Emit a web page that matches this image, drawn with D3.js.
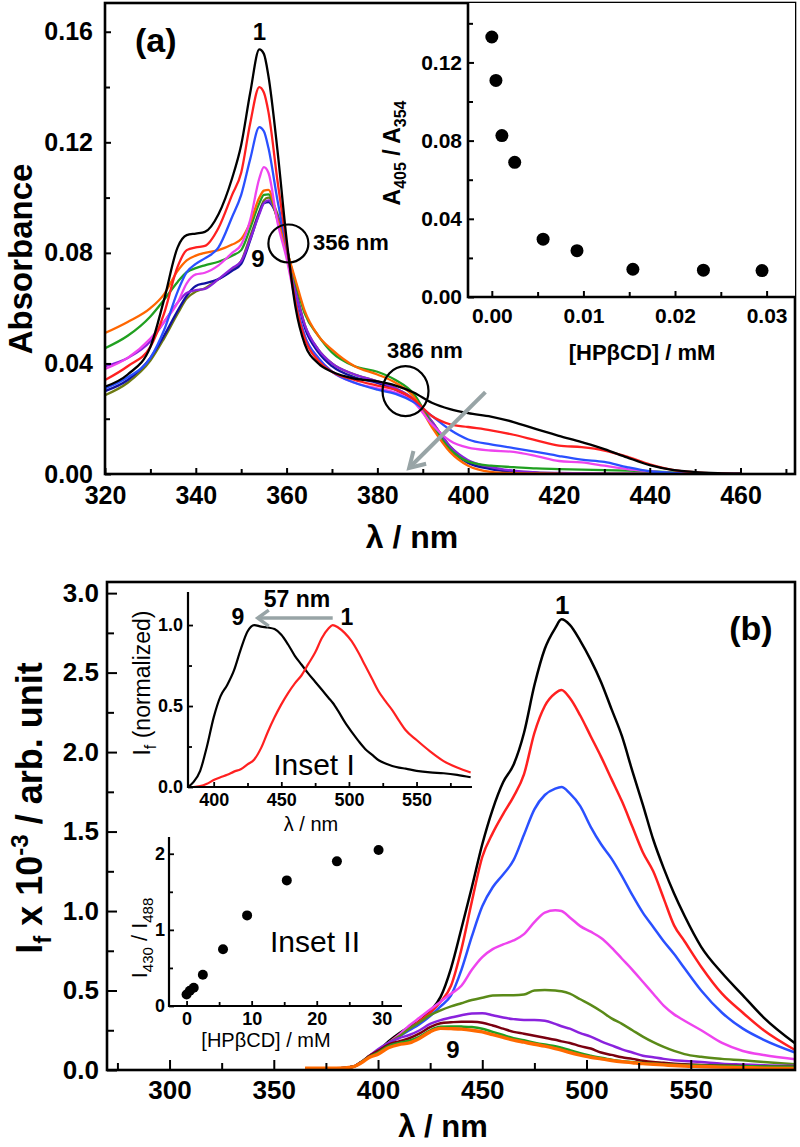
<!DOCTYPE html>
<html>
<head>
<meta charset="utf-8">
<script src="https://cdn.jsdelivr.net/npm/d3@7"></script>
<style>
  body { margin: 0; background: #fff; }
  text { font-family: "Liberation Sans", Arial, sans-serif; }
</style>
</head>
<body>
<svg id="viz"></svg>
<script>
// ---- panel (a): absorption spectra, 9 titration steps ----
const wlA = [320, 325, 330, 333, 336, 338, 340, 342, 345, 348, 350, 352, 354, 355, 356, 358, 360, 362, 364, 367,
             370, 375, 380, 384, 388, 392, 396, 400, 405, 410, 415, 420, 425, 430, 435, 440, 445, 450, 455, 460];
const abs1 = [.0316, .036, .046, .063, .082, .0864, .087, .0876, .094, .107, .119, .138, .1536, .152, .144, .117, .085, .060, .047, .040,
              .037, .0345, .0335, .032, .0295, .0258, .0235, .022, .0208, .0188, .0162, .0138, .0115, .009, .006, .0032, .0015, .0007, .0003, .0001];
const abs2 = [.034, .039, .046, .058, .075, .081, .082, .0825, .089, .101, .109, .127, .140, .138, .131, .106, .083, .062, .049, .041,
              .037, .034, .032, .0305, .027, .021, .018, .017, .0158, .0142, .0122, .0103, .0097, .0085, .0063, .0035, .0015, .0006, .0002, 0];
const abs3 = [.031, .035, .042, .052, .066, .073, .076, .078, .082, .093, .101, .114, .1255, .124, .118, .099, .082, .063, .050, .042,
              .037, .033, .0305, .029, .026, .021, .016, .0125, .0107, .0094, .008, .0065, .0052, .0044, .0025, .001, .0004, .0001, 0, 0];
const abs4 = [.038, .042, .049, .055, .062, .069, .0722, .0728, .0755, .080, .083, .092, .107, .111, .109, .091, .078, .062, .050, .042,
              .037, .033, .031, .0295, .026, .018, .012, .0095, .0085, .008, .0065, .0047, .0042, .003, .0018, .001, .0003, 0, 0, 0];
const abs5 = [.051, .055, .060, .065, .0735, .0773, .079, .080, .081, .083, .085, .091, .100, .1025, .1028, .092, .081, .070, .059, .050,
              .045, .039, .036, .033, .028, .017, .008, .003, .0008, .0003, .0002, .0001, 0, 0, 0, 0, 0, 0, 0, 0];
const abs6 = [.0455, .050, .057, .063, .0695, .073, .0745, .0755, .0768, .079, .081, .089, .098, .101, .1012, .092, .081, .069, .058, .050,
              .044, .039, .037, .034, .029, .018, .009, .0045, .003, .0025, .002, .0018, .0016, .0014, .0012, .001, .0006, .0003, .0001, 0];
const abs7 = [.039, .042, .048, .055, .062, .0655, .0665, .067, .0705, .0745, .077, .085, .094, .098, .099, .093, .081, .066, .054, .045,
              .040, .036, .0335, .031, .027, .019, .010, .005, .0025, .0012, .0006, .0004, .0003, .0002, .0001, .0001, 0, 0, 0, 0];
const abs8 = [.0285, .033, .041, .049, .058, .0635, .066, .0672, .0705, .074, .077, .086, .095, .099, .100, .094, .082, .067, .054, .045,
              .040, .036, .0335, .031, .027, .019, .010, .0045, .002, .001, .0005, .0003, .0002, .0001, 0, 0, 0, 0, 0, 0];
const abs9 = [.030, .034, .042, .050, .059, .0645, .068, .069, .0705, .0735, .076, .0846, .0945, .098, .0984, .093, .082, .066, .053, .044,
              .039, .035, .033, .0305, .0265, .018, .009, .004, .0018, .0008, .0004, .0002, .0001, 0, 0, 0, 0, 0, 0, 0];
const absColors = ["#000000", "#ff2020", "#2a50ff", "#ee44ee", "#ff6600", "#20a020", "#8a22dd", "#6e7a12", "#1212a0"];

// inset of (a): A405/A354 vs [HPbCD]
const concA = [0, 0.00045, 0.0011, 0.0025, 0.0056, 0.0093, 0.0154, 0.0231, 0.0295];
const ratioA = [0.133, 0.1108, 0.0826, 0.0689, 0.0296, 0.0237, 0.0142, 0.0137, 0.0135];

// ---- panel (b): emission spectra ----
const wlB = [365, 380, 388, 392, 396, 400, 405, 410, 415, 420, 425, 430, 435, 440, 445, 450, 455, 460, 465, 470,
             475, 480, 485, 488, 492, 497, 502, 507, 512, 517, 522, 527, 532, 537, 542, 547, 555, 565, 575, 585, 600];
const fl1 = [.01, .01, .02, .05, .09, .12, .18, .23, .27, .31, .37, .46, .64, .89, 1.15, 1.42, 1.64, 1.81, 1.92, 2.12,
             2.42, 2.65, 2.78, 2.835, 2.80, 2.70, 2.58, 2.44, 2.27, 2.10, 1.88, 1.67, 1.45, 1.27, 1.11, .97, .775, .61, .47, .33, .168];
const fl2 = [.01, .01, .02, .05, .09, .12, .17, .22, .26, .31, .36, .43, .53, .76, 1.06, 1.34, 1.49, 1.61, 1.72, 1.86,
             2.12, 2.29, 2.37, 2.39, 2.34, 2.23, 2.10, 1.97, 1.83, 1.69, 1.53, 1.37, 1.25, 1.08, .91, .81, .65, .48, .36, .25, .126];
const fl3 = [.01, .01, .02, .05, .09, .12, .17, .21, .25, .29, .34, .40, .47, .63, .84, 1.03, 1.15, 1.23, 1.32, 1.48,
             1.64, 1.73, 1.77, 1.78, 1.74, 1.66, 1.53, 1.42, 1.33, 1.22, 1.10, .99, .90, .81, .73, .64, .50, .36, .26, .19, .11];
const fl4 = [.01, .01, .02, .05, .09, .12, .17, .22, .28, .33, .38, .43, .48, .53, .63, .71, .76, .79, .815, .855,
             .93, .99, 1.005, 1.0, .96, .905, .87, .83, .77, .70, .63, .555, .48, .405, .35, .31, .25, .17, .12, .094, .067];
const fl5 = [.01, .01, .02, .05, .09, .12, .17, .21, .26, .30, .345, .375, .40, .42, .44, .455, .468, .47, .47, .475,
             .50, .503, .50, .495, .48, .445, .41, .37, .325, .29, .25, .21, .175, .145, .12, .10, .083, .07, .061, .05, .036];
const fl6 = [.01, .01, .02, .05, .09, .13, .17, .20, .22, .25, .29, .314, .33, .345, .355, .357, .345, .33, .32, .314,
             .314, .31, .29, .275, .26, .232, .21, .18, .155, .13, .11, .09, .08, .07, .062, .057, .05, .04, .035, .03, .026];
const fl7 = [.01, .01, .02, .05, .09, .12, .16, .18, .20, .23, .27, .294, .30, .304, .303, .297, .28, .26, .24, .228,
             .215, .203, .19, .18, .17, .15, .135, .11, .095, .08, .07, .058, .05, .046, .04, .036, .032, .028, .025, .022, .02];
const fl8 = [.01, .01, .02, .05, .085, .11, .15, .17, .185, .21, .25, .272, .274, .273, .27, .26, .24, .22, .20, .187,
             .172, .16, .15, .14, .125, .105, .09, .077, .065, .055, .05, .044, .04, .036, .033, .031, .028, .026, .024, .022, .02];
const fl9 = [.012, .012, .02, .045, .08, .10, .14, .16, .17, .20, .24, .262, .26, .257, .25, .24, .222, .205, .188, .175,
             .162, .15, .135, .125, .11, .094, .08, .07, .06, .052, .046, .04, .036, .032, .028, .025, .022, .018, .015, .012, .01];
const flColors = ["#000000", "#ff2020", "#2a50ff", "#ee44ee", "#5a8a18", "#8a22dd", "#7a0010", "#20a020", "#ff6a00"];

// inset I: normalised spectra of step 1 and 9
const wlI = [381, 385, 390, 395, 400, 405, 410, 415, 420, 425, 430, 435, 440, 445, 450, 455, 460, 465, 470, 475,
             480, 485, 488, 492, 497, 502, 507, 512, 517, 522, 527, 532, 537, 542, 550, 560, 570, 580, 590];
const norm9 = [0, .03, .10, .25, .43, .56, .63, .72, .85, .96, 1.0, .99, .985, .975, .94, .88, .81, .755, .70, .65,
               .60, .55, .52, .47, .40, .34, .285, .235, .20, .165, .145, .13, .12, .113, .10, .09, .085, .075, .06];
const norm1 = [0, 0, .005, .02, .043, .06, .075, .095, .11, .14, .17, .24, .34, .43, .51, .58, .64, .69, .76, .83,
               .92, .98, 1.0, .985, .95, .90, .83, .75, .67, .59, .53, .475, .41, .35, .29, .22, .16, .12, .09];

// inset II: I430/I488 vs [HPbCD] (mM)
const concB = [0, 0.5, 1.1, 2.5, 5.6, 9.3, 15.4, 23.1, 29.5];
const ratioB = [0.15, 0.20, 0.24, 0.41, 0.745, 1.19, 1.65, 1.90, 2.05];

const FONT = '"Liberation Sans", Arial, sans-serif';
const svg = d3.select("#viz").attr("width", 800).attr("height", 1147);
svg.append("rect").attr("width", 800).attr("height", 1147).attr("fill", "#fff");

// axis helper: inward ticks, no domain line
function axis(gen, tr, major, minor, len, mlen, fmt, fs, pad, weight, sw) {
  const g = svg.append("g").attr("transform", tr);
  g.call(gen.tickValues(major).tickSizeInner(-len).tickSizeOuter(0).tickPadding(pad).tickFormat(fmt));
  g.select(".domain").remove();
  g.selectAll("line").attr("stroke", "#000").attr("stroke-width", sw);
  g.selectAll("text").attr("font-size", fs).attr("font-family", FONT).attr("font-weight", weight).attr("fill", "#000");
  const m = svg.append("g").attr("transform", tr);
  m.call(gen.tickValues(minor).tickSizeInner(-mlen).tickFormat(""));
  m.select(".domain").remove();
  m.selectAll("line").attr("stroke", "#000").attr("stroke-width", sw);
}

function label(txt, x, y, fs, weight, anchor, rot) {
  const t = svg.append("text").attr("font-size", fs).attr("font-weight", weight)
    .attr("text-anchor", anchor || "middle").attr("fill", "#000");
  if (rot) t.attr("transform", `translate(${x},${y}) rotate(-90)`);
  else t.attr("x", x).attr("y", y);
  return t.text(txt);
}

function arrow(x1, y1, x2, y2, headLen, headW, color, sw) {
  const dx = x2 - x1, dy = y2 - y1, L = Math.hypot(dx, dy), ux = dx / L, uy = dy / L;
  const bx = x2 - ux * headLen, by = y2 - uy * headLen;
  svg.append("line").attr("x1", x1).attr("y1", y1).attr("x2", x2 - ux * 2).attr("y2", y2 - uy * 2)
    .attr("stroke", color).attr("stroke-width", sw);
  svg.append("path")
    .attr("d", `M${bx - uy * headW},${by + ux * headW}L${x2},${y2}L${bx + uy * headW},${by - ux * headW}`)
    .attr("fill", "none").attr("stroke", color).attr("stroke-width", sw).attr("stroke-linejoin", "miter");
}

// ============ panel (a) ============
const xA = d3.scaleLinear().domain([320, 472]).range([105, 795]);
const yA = d3.scaleLinear().domain([0, 0.1704]).range([474, 3]);
const line = d3.line().curve(d3.curveMonotoneX);
const absSeries = [abs1, abs2, abs3, abs4, abs5, abs6, abs7, abs8, abs9];
svg.append("clipPath").attr("id", "clipA").append("rect")
  .attr("x", 105).attr("y", 3).attr("width", 690).attr("height", 471);
const orderA = [7, 8, 6, 5, 4, 3, 2, 1, 0];
svg.append("g").attr("clip-path", "url(#clipA)").selectAll("path").data(orderA).join("path")
  .attr("d", i => line(wlA.map((w, k) => [xA(w), yA(absSeries[i][k])])))
  .attr("fill", "none").attr("stroke", i => absColors[i]).attr("stroke-width", 2.3);

axis(d3.axisBottom(xA), "translate(0,474)", d3.range(320, 461, 20), d3.range(330, 471, 20), 6, 5, d3.format("d"), 25, 12, "bold", 2);
axis(d3.axisLeft(yA), "translate(105,0)", [0, .04, .08, .12, .16], [.02, .06, .10, .14], 6, 5, d3.format(".2f"), 25, 12, "bold", 2);
svg.append("rect").attr("x", 105).attr("y", 3).attr("width", 690).attr("height", 471)
  .attr("fill", "none").attr("stroke", "#000").attr("stroke-width", 2.6);

label("Absorbance", 32, 259, 33, "bold", "middle", true);
label("λ / nm", 412, 548, 32, "bold");
label("(a)", 135, 52, 34, "bold", "start");
label("1", xA(354), yA(0.157), 24, "bold");
label("9", xA(353.7), yA(0.0748), 24, "bold");

// isosbestic circles + arrow
svg.append("ellipse").attr("cx", xA(360.4)).attr("cy", yA(0.0834)).attr("rx", 20).attr("ry", 19)
  .attr("fill", "none").attr("stroke", "#000").attr("stroke-width", 2.2);
label("356 nm", 313, 250, 22, "bold", "start");
svg.append("ellipse").attr("cx", xA(386.2)).attr("cy", yA(0.030)).attr("rx", 23).attr("ry", 25)
  .attr("fill", "none").attr("stroke", "#000").attr("stroke-width", 2.2);
label("386 nm", 425, 358, 22, "bold");
arrow(xA(403.8), yA(0.0296), xA(387.0), yA(0.0022), 15, 9, "#98a4a6", 4);

// inset of (a)
const xIa = d3.scaleLinear().domain([-0.0026, 0.0331]).range([468, 795]);
const yIa = d3.scaleLinear().domain([0, 0.1504]).range([297, 3]);
svg.append("rect").attr("x", 468).attr("y", 3).attr("width", 327).attr("height", 294).attr("fill", "#fff");
axis(d3.axisBottom(xIa), "translate(0,297)", [0, .01, .02, .03], [.005, .015, .025], 6, 5, d3.format(".2f"), 21, 11, "bold", 2);
axis(d3.axisLeft(yIa), "translate(468,0)", [0, .04, .08, .12], [.02, .06, .10, .14], 6, 5, d3.format(".2f"), 21, 6, "bold", 2);
svg.append("path").attr("d", "M468,3V297H795").attr("fill", "none").attr("stroke", "#000").attr("stroke-width", 2.6);
svg.append("g").selectAll("circle").data(concA).join("circle")
  .attr("cx", d => xIa(d)).attr("cy", (d, i) => yIa(ratioA[i])).attr("r", 6.5).attr("fill", "#000");
const yl = label("", 400, 153, 23, "bold", "middle", true);
yl.append("tspan").text("A");
yl.append("tspan").attr("font-size", 16).attr("dy", 6).text("405");
yl.append("tspan").attr("dy", -6).text(" / A");
yl.append("tspan").attr("font-size", 16).attr("dy", 6).text("354");
label("[HPβCD] / mM", 642, 360, 22, "bold");

// ============ panel (b) ============
const xB = d3.scaleLinear().domain([270, 600]).range([107, 795]);
const yB = d3.scaleLinear().domain([0, 3.07]).range([1070, 582]);
const flSeries = [fl1, fl2, fl3, fl4, fl5, fl6, fl7, fl8, fl9];
const orderB = [0, 1, 2, 3, 4, 5, 6, 7, 8];
svg.append("g").selectAll("path").data(orderB).join("path")
  .attr("d", i => line(wlB.map((w, k) => [xB(w), yB(flSeries[i][k])])))
  .attr("fill", "none").attr("stroke", i => flColors[i]).attr("stroke-width", i => i === 8 ? 3.4 : 2.5);

axis(d3.axisBottom(xB), "translate(0,1070)", d3.range(300, 551, 50), d3.range(275, 576, 50), 10, 7, d3.format("d"), 26, 11, "bold", 2);
axis(d3.axisLeft(yB), "translate(107,0)", d3.range(0, 3.01, 0.5), d3.range(0.25, 3.0, 0.5), 10, 7, d3.format(".1f"), 26, 8, "bold", 2);
svg.append("rect").attr("x", 107).attr("y", 582).attr("width", 688).attr("height", 488)
  .attr("fill", "none").attr("stroke", "#000").attr("stroke-width", 2.6);

const ylb = label("", 42, 808, 36, "bold", "middle", true);
ylb.append("tspan").text("I");
ylb.append("tspan").attr("font-size", 24).attr("dy", 9).text("f");
ylb.append("tspan").attr("dy", -9).text(" x 10");
ylb.append("tspan").attr("font-size", 24).attr("dy", -14).text("-3");
ylb.append("tspan").attr("dy", 14).text(" / arb. unit");
label("λ / nm", 443, 1137, 31, "bold");
label("(b)", 751, 640, 34, "bold");
label("1", xB(488.3), yB(2.87), 26, "bold");
label("9", xB(435.9), yB(0.075), 24, "bold");

// inset I
const xI = d3.scaleLinear().domain([381, 591]).range([188, 472]);
const yI = d3.scaleLinear().domain([0, 1.204]).range([787, 592]);
svg.append("path").attr("d", line(wlI.map((w, k) => [xI(w), yI(norm9[k])])))
  .attr("fill", "none").attr("stroke", "#000").attr("stroke-width", 2.2);
svg.append("path").attr("d", line(wlI.map((w, k) => [xI(w), yI(norm1[k])])))
  .attr("fill", "none").attr("stroke", "#ff2020").attr("stroke-width", 2.2);
axis(d3.axisBottom(xI), "translate(0,787)", [400, 450, 500, 550], [425, 475, 525, 575], 5, 4, d3.format("d"), 18, 6, "bold", 1.8);
axis(d3.axisLeft(yI), "translate(188,0)", [0, 0.5, 1.0], [0.25, 0.75], 5, 4, d3.format(".1f"), 18, 5, "bold", 1.8);
svg.append("path").attr("d", "M188,592V787H472").attr("fill", "none").attr("stroke", "#000").attr("stroke-width", 2.2);
const yli = label("", 150, 683, 23, "normal", "middle", true);
yli.append("tspan").text("I");
yli.append("tspan").attr("font-size", 16).attr("dy", 6).text("f");
yli.append("tspan").attr("dy", -6).text(" (normalized)");
label("λ / nm", 311, 831, 20, "normal");
label("Inset I", 314, 775, 30, "normal");
label("57 nm", 297, 607, 23, "bold");
label("9", 238, 625, 23, "bold");
label("1", 347, 625, 23, "bold");
arrow(xI(488), yI(1.043), xI(432.6), yI(1.043), 11, 8, "#98a4a6", 3.5);

// inset II
const xII = d3.scaleLinear().domain([-2.7, 33.1]).range([169, 402]);
const yII = d3.scaleLinear().domain([0, 2.22]).range([1006, 837]);
axis(d3.axisBottom(xII), "translate(0,1006)", [0, 10, 20, 30], [5, 15, 25], 5, 4, d3.format("d"), 18, 6, "bold", 1.8);
axis(d3.axisLeft(yII), "translate(169,0)", [0, 1, 2], [0.5, 1.5], 5, 4, d3.format("d"), 18, 4, "bold", 1.8);
svg.append("path").attr("d", "M169,837V1006H402").attr("fill", "none").attr("stroke", "#000").attr("stroke-width", 2.2);
svg.append("g").selectAll("circle").data(concB).join("circle")
  .attr("cx", d => xII(d)).attr("cy", (d, i) => yII(ratioB[i])).attr("r", 5).attr("fill", "#000");
const ylii = label("", 147, 938, 22, "normal", "middle", true);
ylii.append("tspan").text("I");
ylii.append("tspan").attr("font-size", 15).attr("dy", 6).text("430");
ylii.append("tspan").attr("dy", -6).text(" / I");
ylii.append("tspan").attr("font-size", 15).attr("dy", 6).text("488");
label("[HPβCD] / mM", 266, 1047, 20, "normal");
label("Inset II", 270, 952, 30, "normal", "start");
</script>
</body>
</html>
